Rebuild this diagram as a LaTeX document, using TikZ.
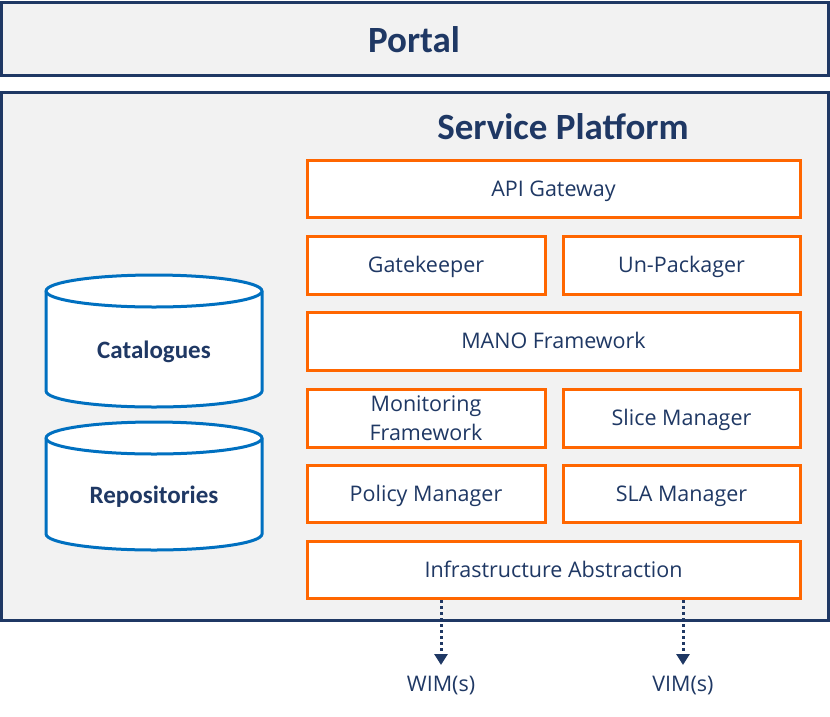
\documentclass[tikz,border=0pt]{standalone}
\usepackage{fontspec}
\setmainfont{Open Sans}
\newfontfamily\titlefont{Carlito}
\usetikzlibrary{shapes.geometric,arrows.meta}
\definecolor{navy}{HTML}{1F3864}
\definecolor{orng}{HTML}{FF6600}
\definecolor{cylblue}{HTML}{0070C0}
\definecolor{panel}{HTML}{F2F2F2}
\tikzset{
  frame/.style={draw=navy, line width=3pt, fill=panel},
  comp/.style={draw=orng, line width=3pt, fill=white, text=navy, font=\fontsize{21.5}{29}\selectfont, align=center, inner sep=0pt},
  onel/.style={comp, text height=15.5pt, text depth=0pt},
  cyl/.style={draw=cylblue, line width=3pt, fill=white},
  title/.style={text=navy, font=\titlefont\bfseries\fontsize{37}{40}\selectfont},
  cyltext/.style={text=navy, font=\titlefont\bfseries\fontsize{25}{28}\selectfont},
  flow/.style={draw=navy, line width=3pt, dash pattern=on 3pt off 3pt, -{Triangle[width=13pt,length=11pt]}},
  ext/.style={text=navy, font=\fontsize{21.5}{25}\selectfont}
}
\begin{document}
\begin{tikzpicture}[x=1pt,y=-1pt]
\useasboundingbox (0,0) rectangle (830,716);
% portal
\draw[frame] (1.5,2) rectangle (828.5,75);
\node[title] (portal) at (414,40) {Portal};
% service platform
\draw[frame] (1.5,92) rectangle (828.5,620);
\node[title] (sp) at (563,127) {Service Platform};
% components
\node[onel, minimum width=493pt, minimum height=57pt] (api) at (553.5,188.5) {API Gateway};
\node[onel, minimum width=238pt, minimum height=58pt] (gk) at (426,265) {Gatekeeper};
\node[onel, minimum width=237pt, minimum height=58pt] (up) at (681.5,265) {Un-Packager};
\node[onel, minimum width=493pt, minimum height=58pt] (mano) at (553.5,341) {MANO Framework};
\node[comp, minimum width=238pt, minimum height=58pt] (mon) at (426,418) {Monitoring\\Framework};
\node[onel, minimum width=237pt, minimum height=58pt] (slice) at (681.5,418) {Slice Manager};
\node[onel, minimum width=238pt, minimum height=57pt] (pol) at (426,493.5) {Policy Manager};
\node[onel, minimum width=237pt, minimum height=57pt] (sla) at (681.5,493.5) {SLA Manager};
\node[onel, minimum width=493pt, minimum height=57pt] (infra) at (553.5,569.5) {Infrastructure Abstraction};
% cylinders
\draw[cyl] (46,291) -- (46,391) arc[start angle=180,end angle=0,x radius=108,y radius=16] -- (262,291) arc[start angle=360,end angle=180,x radius=108,y radius=16] -- cycle;
\draw[cyl] (46,291) arc[start angle=180,end angle=0,x radius=108,y radius=16];
\node[cyltext] (cat) at (154,352) {Catalogues};
\draw[cyl] (46,438) -- (46,534) arc[start angle=180,end angle=0,x radius=108,y radius=16] -- (262,438) arc[start angle=360,end angle=180,x radius=108,y radius=16] -- cycle;
\draw[cyl] (46,438) arc[start angle=180,end angle=0,x radius=108,y radius=16];
\node[cyltext] (rep) at (154,497) {Repositories};
% external
\node[ext] (wim) at (441,686) {WIM(s)};
\node[ext] (vim) at (683,686) {VIM(s)};
\coordinate (wtop) at (441,600);
\coordinate (vtop) at (683,600);
\draw[flow] (wtop) -- (wim.north |- 0,665);
\draw[flow] (vtop) -- (vim.north |- 0,665);
\end{tikzpicture}
\end{document}
